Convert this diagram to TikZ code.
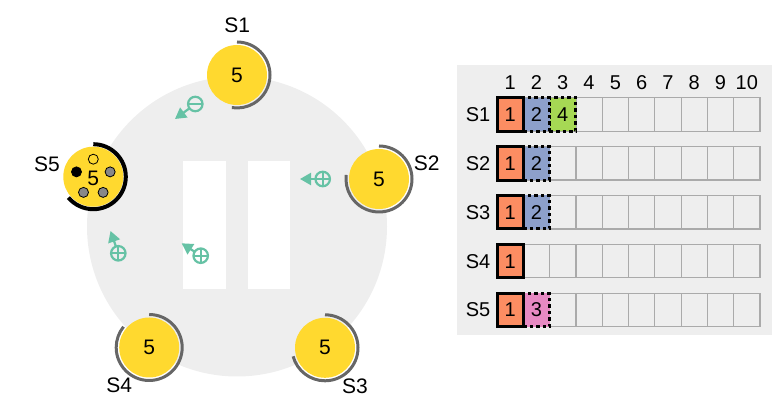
\documentclass[tikz,border=0pt]{standalone}
\usepackage{fontspec}
\setmainfont{Liberation Sans}
\usetikzlibrary{arrows.meta}
\definecolor{bgray}{HTML}{EEEEEE}
\definecolor{syellow}{HTML}{FFD92F}
\definecolor{steal}{HTML}{66C2A5}
\definecolor{sorange}{HTML}{FC8D62}
\definecolor{sblue}{HTML}{8DA0CB}
\definecolor{sgreen}{HTML}{A6D854}
\definecolor{spink}{HTML}{E78AC3}
\definecolor{arcgray}{HTML}{666666}
\definecolor{cellline}{HTML}{AAAAAA}
\definecolor{dotgray}{HTML}{888888}
\begin{document}
\begin{tikzpicture}[x=1pt,y=1pt,
  lab/.style={inner sep=0pt, font=\fontsize{21}{25}\selectfont},
  tlab/.style={inner sep=0pt, font=\fontsize{20}{24}\selectfont},
  server/.style={circle, fill=syellow, minimum size=60pt, inner sep=0pt, font=\fontsize{21}{25}\selectfont},
  arcst/.style={arcgray, line width=3pt},
  arcact/.style={black, line width=4pt},
  sgnbase/.style={circle, draw=steal, line width=2.2pt, minimum size=14.5pt, inner sep=0pt, outer sep=0pt},
  plussign/.style={sgnbase, path picture={\draw[steal, line width=2.2pt] (path picture bounding box.west) -- (path picture bounding box.east) (path picture bounding box.north) -- (path picture bounding box.south);}},
  minussign/.style={sgnbase, path picture={\draw[steal, line width=2.2pt] (path picture bounding box.west) -- (path picture bounding box.east);}},
  movearrow/.style={steal, line width=2.2pt, -{Triangle[length=11pt, width=12pt]}},
  dot/.style={circle, minimum size=10pt, inner sep=0pt, draw=black, line width=0.8pt},
  emptycell/.style={draw=cellline, line width=1.2pt, minimum width=26.3pt, minimum height=33.5pt, inner sep=0pt},
  solidcell/.style={draw=black, line width=3pt, minimum width=26.3pt, minimum height=33.5pt, inner sep=0pt, font=\fontsize{20}{24}\selectfont},
  dashcell/.style={solidcell, dash pattern=on 3.5pt off 3pt}
]
\useasboundingbox (0,0) rectangle (782,406);
% ring
\fill[bgray] (237,179.5) circle (150);
\fill[white] (183.3,117) rectangle (226,245.3);
\fill[white] (247.7,117) rectangle (290,245.3);

% servers
\node[server] (s1) at (237,331) {5};
\node[server] (s2) at (379,227) {5};
\node[server] (s3) at (325,58.2) {5};
\node[server] (s4) at (149.2,58.5) {5};
\node[server] (s5) at (93.3,229.3) {};
\draw[arcst] (s1.center) ++(90:33pt) arc[start angle=90, end angle=-99, radius=33pt];
\draw[arcst] (s2.center) ++(90:33pt) arc[start angle=90, end angle=-187, radius=33pt];
\draw[arcst] (s3.center) ++(90:33pt) arc[start angle=90, end angle=-165, radius=33pt];
\draw[arcst] (s4.center) ++(90:33pt) arc[start angle=90, end angle=-219, radius=33pt];
\draw[arcact] (s5.center) ++(90:32.5pt) arc[start angle=90, end angle=-140, radius=32.5pt];
% S5 replicas
\node[dot, fill=syellow] (d1) at ([shift={(90:17.5pt)}]s5.center) {};
\node[dot, fill=black] (d2) at ([shift={(164:17.5pt)}]s5.center) {};
\node[dot, fill=dotgray] (d3) at ([shift={(16:17.5pt)}]s5.center) {};
\node[dot, fill=dotgray] (d4) at ([shift={(238:18.5pt)}]s5.center) {};
\node[dot, fill=dotgray] (d5) at ([shift={(302:18.5pt)}]s5.center) {};
\node[lab] (s5num) at ([yshift=-1.5pt]s5.center) {5};

% labels
\node[lab] (l1) at (237.3,380.3) {S1};
\node[lab] (l2) at (426.7,242.7) {S2};
\node[lab] (l3) at (355,20) {S3};
\node[lab] (l4) at (119.2,20.5) {S4};
\node[lab] (l5) at (47,241.7) {S5};

% moving tokens
\node[minussign] (m1) at (195.3,302) {};
\coordinate (t1) at (175,287);
\draw[movearrow] (m1) -- (t1);
\node[plussign] (m2) at (322.7,227) {};
\coordinate (t2) at (300,227);
\draw[movearrow] (m2) -- (t2);
\node[plussign] (m3) at (118.3,152.7) {};
\coordinate (t3) at (110.5,175);
\draw[movearrow] (m3) -- (t3);
\node[plussign] (m4) at (200.7,150.3) {};
\coordinate (t4) at (181.7,162.7);
\draw[movearrow] (m4) -- (t4);

% table
\fill[bgray] (457,71) rectangle (771.7,341);
\foreach \j in {1,...,10} {
  \node[tlab] (h\j) at ({510.15+26.3*(\j-1)},323.3) {\j};
}
\foreach \i in {1,...,5} {
  \node[tlab] (r\i) at (478,{291.55-48.9*(\i-1)}) {S\i};
  \foreach \j in {1,...,10} {
    \node[emptycell] (c\i-\j) at ({510.15+26.3*(\j-1)},{291.55-48.9*(\i-1)}) {};
  }
}
% entries
\node[dashcell, fill=sgreen] (e13) at (c1-3) {4};
\node[dashcell, fill=sblue] (e12) at (c1-2) {2};
\node[dashcell, fill=sblue] (e22) at (c2-2) {2};
\node[dashcell, fill=sblue] (e32) at (c3-2) {2};
\node[dashcell, fill=spink] (e52) at (c5-2) {3};
\foreach \i in {1,...,5} {
  \node[solidcell, fill=sorange] (e\i1) at (c\i-1) {1};
}
\end{tikzpicture}
\end{document}
